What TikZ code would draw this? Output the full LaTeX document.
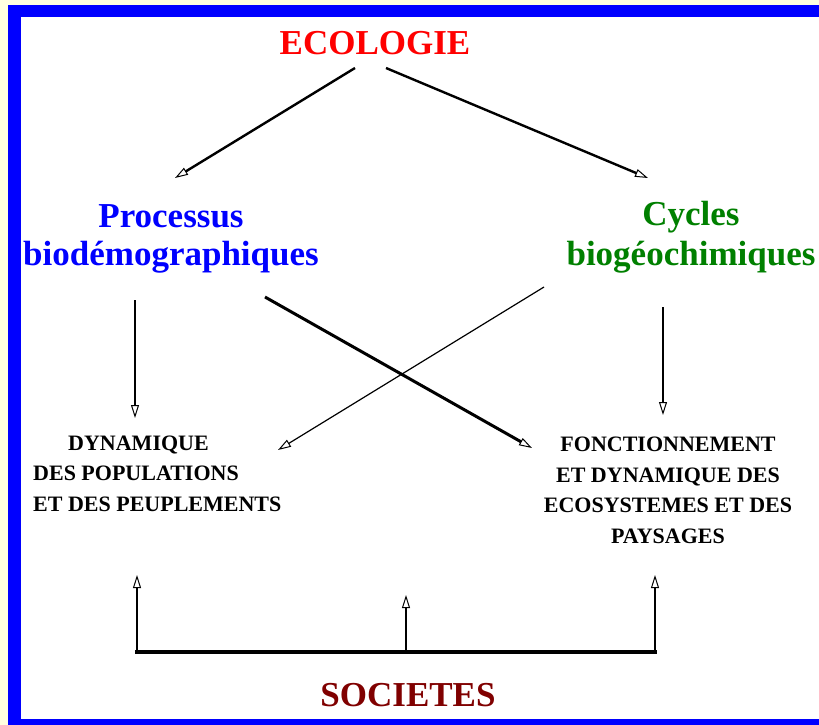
\documentclass[tikz,border=0pt]{standalone}
\usepackage{fontspec}
\setmainfont{Liberation Serif}
\usetikzlibrary{arrows.meta}
\definecolor{cream}{HTML}{FFFFE0}
\definecolor{frameblue}{HTML}{0000FF}
\definecolor{ecored}{HTML}{FF0000}
\definecolor{procblue}{HTML}{0000FF}
\definecolor{cyclegreen}{HTML}{008000}
\definecolor{socred}{HTML}{800000}
\begin{document}
\begin{tikzpicture}[x=1pt,y=-1pt,
  big/.style={font=\fontsize{35}{38}\selectfont\bfseries, inner sep=0pt, anchor=base, align=center},
  small/.style={font=\fontsize{22}{30.5}\selectfont\bfseries, inner sep=0pt, anchor=base},
  arr/.style={-{Triangle[open,length=13pt,width=8pt,line width=1pt]}, line width=2.4pt},
]
\useasboundingbox (0,0) rectangle (819,725);
\fill[cream] (0,0) rectangle (819,725);
\fill[frameblue] (8,5) rectangle (819,725);
\fill[white] (21,17) rectangle (819,719);

% texts (multi-line nodes are placed by the baseline of their last line)
\node[big, text=ecored] (eco) at (375,55) {ECOLOGIE};
\node[big, text=procblue] (proc) at (171,265) {Processus\\biodémographiques};
\node[big, text=cyclegreen, font=\fontsize{35}{40}\selectfont\bfseries] (cyc) at (691,265) {Cycles\\biogéochimiques};
\node[small, align=left, anchor=base west] (dyn) at (33,511) {\hspace*{35pt}DYNAMIQUE\\DES POPULATIONS\\ET DES PEUPLEMENTS};
\node[small, align=center] (fonc) at (668,543) {FONCTIONNEMENT\\ET DYNAMIQUE DES\\ECOSYSTEMES ET DES\\PAYSAGES};
\node[big, text=socred] (soc) at (408,706) {SOCIETES};

% connector end points
\coordinate (ecoL) at (355,68);
\coordinate (ecoR) at (386,68);
\coordinate (procT) at (175,178);
\coordinate (cycT) at (648,178);
\coordinate (procD) at (135,300);
\coordinate (dynT) at (135,418);
\coordinate (procX) at (265,297);
\coordinate (foncX) at (532,448);
\coordinate (cycX) at (544,287);
\coordinate (dynX) at (278,450);
\coordinate (cycD) at (663,307);
\coordinate (foncT) at (663,415);
\coordinate (socL) at (137,652);
\coordinate (socR) at (655,652);
\coordinate (socM) at (406,652);
\coordinate (dynB) at (137,575);
\coordinate (foncB) at (655,575);
\coordinate (midB) at (406,595);

% connectors
\draw[arr] (ecoL) -- (procT);
\draw[arr] (ecoR) -- (cycT);
\draw[arr] (procD) -- (dynT);
\draw[arr, line width=3pt] (procX) -- (foncX);
\draw[arr, line width=1.2pt] (cycX) -- (dynX);
\draw[arr] (cycD) -- (foncT);
\draw[line width=3.5pt, line cap=rect] (socL) -- (socR);
\draw[arr, line width=2.8pt] (socL) -- (dynB);
\draw[arr, line width=2.8pt] (socR) -- (foncB);
\draw[arr, line width=2.8pt] (socM) -- (midB);
\end{tikzpicture}
\end{document}
